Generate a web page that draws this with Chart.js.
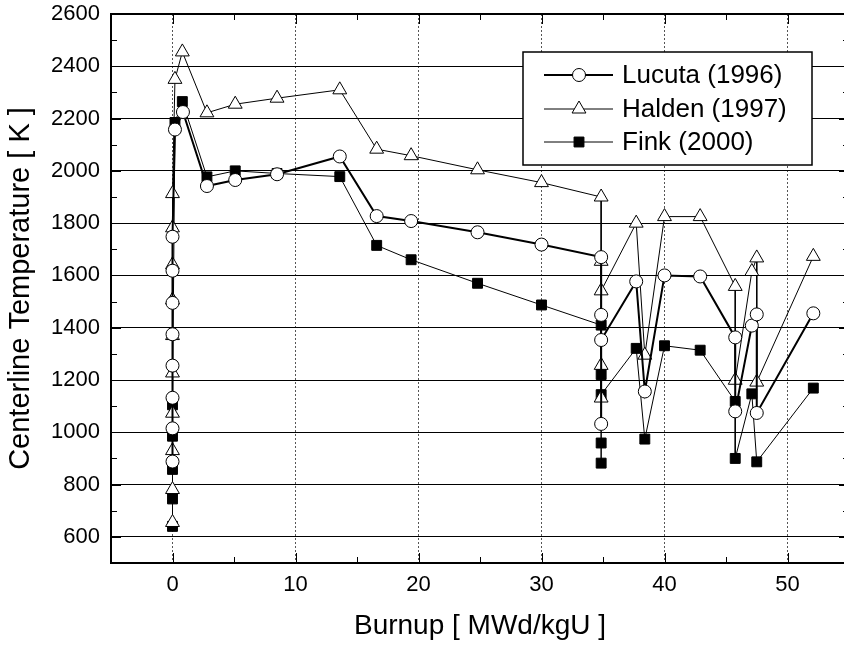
<!DOCTYPE html>
<html>
<head>
<meta charset="utf-8">
<script src="https://cdn.jsdelivr.net/npm/chart.js@4.4.0/dist/chart.umd.min.js"></script>
<style>
html, body { margin: 0; padding: 0; background: #fff; overflow: hidden; }
#wrap { width: 844px; height: 648px; overflow: hidden; }
</style>
</head>
<body>
<div id="wrap"><canvas id="mycanvas" width="860" height="648"></canvas></div>
<script>
// tick values
var xTicks = [0, 10, 20, 30, 40, 50];
var yTicks = [600, 800, 1000, 1200, 1400, 1600, 1800, 2000, 2200, 2400, 2600];

// Lucuta (1996)
var lucutaBurnup = [0, 0, 0, 0, 0, 0, 0, 0, 0.2, 0.85, 2.8, 5.1, 8.5, 13.6, 16.6, 19.4, 24.8, 30.0,
	34.85, 34.85, 34.85, 34.85, 37.7, 38.4, 40.0, 42.9, 45.75, 45.75, 47.1, 47.5, 47.5, 52.1];
var lucutaTemp = [888, 1015, 1132, 1255, 1375, 1495, 1618, 1748, 2158, 2225, 1942, 1965, 1987, 2055, 1827, 1808, 1765, 1718,
	1670, 1449, 1032, 1353, 1577, 1156, 1600, 1596, 1363, 1080, 1408, 1451, 1074, 1455];

// Halden (1997)
var haldenBurnup = [0, 0, 0, 0, 0, 0, 0, 0, 0, 0, 0.2, 0.8, 2.8, 5.1, 8.5, 13.6, 16.6, 19.4, 24.8, 30.0,
	34.85, 34.85, 34.85, 34.85, 34.85, 37.7, 38.4, 40.0, 42.9, 45.75, 45.75, 47.1, 47.5, 47.5, 52.1];
var haldenTemp = [655, 781, 930, 1073, 1227, 1370, 1506, 1641, 1782, 1913, 2350, 2455, 2222, 2255, 2278, 2310, 2083, 2058, 2004, 1955,
	1900, 1654, 1256, 1131, 1541, 1800, 1295, 1825, 1825, 1558, 1199, 1615, 1667, 1192, 1673];

// Fink (2000)
var finkBurnup = [0, 0, 0, 0, 0, 0.2, 0.8, 2.8, 5.1, 8.5, 13.6, 16.6, 19.4, 24.8, 30.0,
	34.85, 34.85, 34.85, 34.85, 34.85, 37.7, 38.4, 40.0, 42.9, 45.75, 45.75, 47.1, 47.5, 52.1];
var finkTemp = [640, 745, 858, 985, 1105, 2185, 2265, 1977, 2000, 1990, 1978, 1715, 1660, 1570, 1487,
	1410, 1221, 882, 959, 1144, 1321, 974, 1331, 1314, 1118, 900, 1147, 887, 1169];

var FONT = "'Liberation Sans', Arial, sans-serif";

function toPoints(xs, ys) {
	var pts = [];
	for (var i in xs) {
		pts.push({x: xs[i], y: ys[i]});
	}
	return pts;
}

var series = [
	{label: 'Lucuta (1996)', data: toPoints(lucutaBurnup, lucutaTemp), style: 'circle', radius: 6.5, fill: '#fff', width: 2},
	{label: 'Halden (1997)', data: toPoints(haldenBurnup, haldenTemp), style: 'triangle', radius: 8, fill: '#fff', width: 1},
	{label: 'Fink (2000)', data: toPoints(finkBurnup, finkTemp), style: 'rect', radius: 7, fill: '#000', width: 1}
];

var datasets = series.map(function(s) {
	return {
		label: s.label,
		data: s.data,
		borderColor: '#000',
		borderWidth: s.width,
		tension: 0,
		fill: false,
		pointStyle: s.style,
		pointRadius: s.radius,
		pointHoverRadius: s.radius,
		pointBackgroundColor: s.fill,
		pointBorderColor: '#000',
		pointBorderWidth: 1
	};
});

// frame, inward ticks and boxed legend
var framePlugin = {
	id: 'frame',
	afterDraw: function(chart) {
		var ctx = chart.ctx;
		var a = chart.chartArea;
		var xs = chart.scales.x, ys = chart.scales.y;
		ctx.save();
		ctx.strokeStyle = '#000';
		ctx.lineWidth = 1;
		ctx.beginPath();
		var v, p, len;
		for (v = 0; v <= 55; v += 5) {
			p = Math.round(xs.getPixelForValue(v)) + 0.5;
			len = (v % 10 === 0) ? 10 : 6;
			ctx.moveTo(p, a.bottom); ctx.lineTo(p, a.bottom - len);
			ctx.moveTo(p, a.top); ctx.lineTo(p, a.top + len);
		}
		for (v = 500; v <= 2600; v += 100) {
			p = Math.round(ys.getPixelForValue(v)) + 0.5;
			len = (v % 200 === 0) ? 10 : 6;
			ctx.moveTo(a.left, p); ctx.lineTo(a.left + len, p);
			ctx.moveTo(a.right, p); ctx.lineTo(a.right - len, p);
		}
		ctx.stroke();

		ctx.lineWidth = 2;
		ctx.strokeRect(a.left, a.top, a.right - a.left, a.bottom - a.top);

		// legend
		var bx = 523, by = 52, bw = 289, bh = 113;
		ctx.fillStyle = '#fff';
		ctx.fillRect(bx, by, bw, bh);
		ctx.lineWidth = 1.5;
		ctx.strokeRect(bx, by, bw, bh);
		var rows = [75, 109, 142];
		ctx.font = '26px ' + FONT;
		ctx.textBaseline = 'middle';
		series.forEach(function(s, i) {
			var y = rows[i];
			ctx.lineWidth = s.width;
			ctx.strokeStyle = '#000';
			ctx.beginPath();
			ctx.moveTo(544, y); ctx.lineTo(613, y);
			ctx.stroke();
			ctx.fillStyle = s.fill;
			ctx.lineWidth = 1;
			Chart.helpers.drawPoint(ctx, {pointStyle: s.style, radius: s.radius, rotation: 0, borderWidth: 1}, 579, y);
			ctx.fillStyle = '#000';
			ctx.fillText(s.label, 622, y + 1);
		});
		ctx.restore();
	}
};

var ctx = document.getElementById('mycanvas');

var chart = new Chart(ctx, {
	type: 'line',
	data: {datasets: datasets},
	options: {
		responsive: false,
		animation: false,
		devicePixelRatio: 1,
		layout: {padding: {top: 14, right: 11, left: 0, bottom: 0}},
		plugins: {legend: {display: false}, tooltip: {enabled: false}},
		scales: {
			x: {
				type: 'linear',
				min: -5,
				max: 55,
				afterBuildTicks: function(s) { s.ticks = xTicks.map(function(v) { return {value: v}; }); },
				afterFit: function(s) { s.height = 85; s.paddingLeft = 0; s.paddingRight = 0; },
				grid: {color: '#555', lineWidth: 1, drawTicks: false},
				border: {display: false, dash: [2, 2]},
				ticks: {color: '#000', padding: 9, maxRotation: 0, font: {family: FONT, size: 22},
					callback: function(v) { return String(v); }},
				title: {display: true, text: 'Burnup [ MWd/kgU ]', color: '#000', padding: {top: 0, bottom: 5}, font: {family: FONT, size: 28}}
			},
			y: {
				type: 'linear',
				min: 500,
				max: 2600,
				afterBuildTicks: function(s) { s.ticks = yTicks.map(function(v) { return {value: v}; }); },
				afterFit: function(s) { s.width = 111; s.paddingTop = 0; s.paddingBottom = 0; },
				grid: {color: '#000', lineWidth: 1, drawTicks: false},
				border: {display: false},
				ticks: {color: '#000', padding: 11, font: {family: FONT, size: 22},
					callback: function(v) { return String(v); }},
				title: {display: true, text: 'Centerline Temperature [ K ]', color: '#000', padding: {top: 4, bottom: 0}, font: {family: FONT, size: 29}}
			}
		}
	},
	plugins: [framePlugin]
});
</script>
</body>
</html>
